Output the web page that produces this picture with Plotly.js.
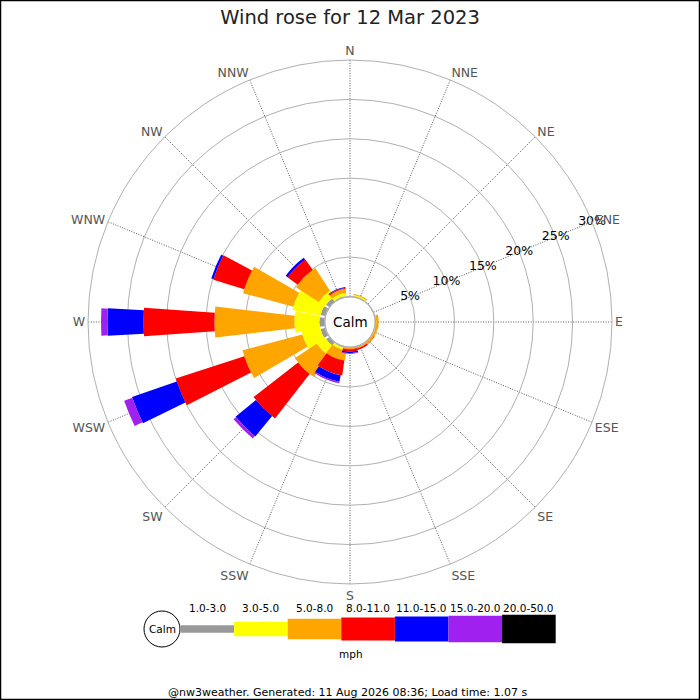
<!DOCTYPE html>
<html>
<head>
<meta charset="utf-8">
<script src="https://cdn.plot.ly/plotly-3.0.1.min.js"></script>
<style>html,body{margin:0;padding:0;background:#fff;}#chart{width:700px;height:700px;}</style>
</head>
<body>
<div id="chart"></div>
<script>
// ---- data (percent of time, by direction and speed band) ----
const directions = ["N","NNE","NE","ENE","E","ESE","SE","SSE","S","SSW","SW","WSW","W","WNW","NW","NNW"];
const speedBands = ["1.0-3.0","3.0-5.0","5.0-8.0","8.0-11.0","11.0-15.0","15.0-20.0","20.0-50.0"];
const bandColors = ["#999999","#ffff00","#ffa500","#ff0000","#0000ff","#a020f0","#000000"];
//                  N    NNE   NE   ENE   E    ESE   SE   SSE   S    SSW   SW    WSW   W     WNW   NW    NNW
const band1to3   = [0,   0,    0,   0,    0,   0,    0,   0,    0,   0.1,  0.5,  0.6,  0.65, 0.6,  0.5,  0.1];
const band3to5   = [0,   0.2,  0,   0,    0.1, 0.05, 0.05,0.05, 0.05,0.3,  1.3,  2.4,  3.15, 3.6,  0.95, 0.4];
const band5to8   = [0,   0.15, 0,   0,    0.3, 0.3,  0.25,0.2,  0.15,1.3,  3.3,  7.85, 10.15,6.6,  3.45, 0.5];
const band8to11  = [0,   0,    0,   0,    0,   0,    0.05,0.2,  0.3, 1.9,  7.15, 9.15, 9.0,  4.1,  1.6,  0.12];
const band11to15 = [0,   0,    0,   0,    0,   0,    0,   0,    0.2, 0.85, 3.35, 6.0,  4.6,  0.3,  0.3,  0.1];
const band15to20 = [0,   0,    0,   0,    0,   0,    0,   0,    0.1, 0.2,  0.4,  1.1,  0.8,  0,    0,    0];
const band20to50 = [0,   0,    0,   0,    0,   0,    0,   0,    0,   0,    0,    0,    0,    0,    0,    0];
const bandValues = [band1to3, band3to5, band5to8, band8to11, band11to15, band15to20, band20to50];
const radialTicks = [5, 10, 15, 20, 25, 30];
const radialLabelDir = "ENE";
const titleText = "Wind rose for 12 Mar 2023";
const footerText = "@nw3weather. Generated: 11 Aug 2026 08:36; Load time: 1.07 s";
const unitText = "mph";
const calmText = "Calm";

// ---- style constants ----
const W = 700, H = 700;
const cx = 350, cy = 322, R = 262, holePx = 25.6;
const rMax = 30;
const sectorDeg = 360 / directions.length;
const barPx = [9, 17, 22, 23.5, 25.5, 27, 28];        // bar thickness per band (px)
const legendPx = [7.7, 14.3, 20.3, 23, 25, 26.7, 28.3]; // legend bar heights
const FONT = "DejaVu Sans, sans-serif";

const px = v => v / W, py = v => 1 - v / H;
const scale = (R - holePx) / rMax;

// traces (widths in category units: 1 = one full sector)
const cum = directions.map(() => 0);
const traces = bandValues.map((vals, b) => {
  const widths = vals.map((v, i) => {
    const mid = holePx + scale * (cum[i] + v / 2);
    const deg = 2 * Math.atan((barPx[b] / 2) / mid) * 180 / Math.PI;
    return Math.min(deg, 30) / sectorDeg;
  });
  vals.forEach((v, i) => cum[i] += v);
  return {
    type: "barpolar",
    name: speedBands[b],
    r: vals,
    theta: directions,
    width: widths,
    marker: {color: bandColors[b], line: {width: 0}},
    hoverinfo: "skip",
    showlegend: false
  };
});
// radial tick labels, centred on the ENE spoke
traces.push({
  type: "scatterpolar", mode: "text",
  r: radialTicks, theta: radialTicks.map(() => radialLabelDir),
  text: radialTicks.map(t => t + "%"),
  textposition: "middle center",
  textfont: {family: FONT, size: 12.5, color: "#000000"},
  cliponaxis: false, hoverinfo: "skip", showlegend: false
});

// shapes: calm circle, legend glyphs, border
const shapes = [];
shapes.push({type: "circle", xref: "paper", yref: "paper",
  x0: px(cx - 25), x1: px(cx + 25), y0: py(cy + 25), y1: py(cy - 25),
  line: {color: "#aaaaaa", width: 1}, fillcolor: "#ffffff", layer: "above"});
const legY = 629, legX0 = 180.5, legStep = 53.6;
shapes.push({type: "circle", xref: "paper", yref: "paper",
  x0: px(144), x1: px(180), y0: py(legY + 18), y1: py(legY - 18),
  line: {color: "#000000", width: 1}, fillcolor: "#ffffff"});
const annotations = [];
speedBands.forEach((lab, b) => {
  const x0 = legX0 + b * legStep, x1 = x0 + legStep;
  shapes.push({type: "rect", xref: "paper", yref: "paper",
    x0: px(x0), x1: px(x1), y0: py(legY + legendPx[b] / 2), y1: py(legY - legendPx[b] / 2),
    line: {width: 0}, fillcolor: bandColors[b]});
  annotations.push({xref: "paper", yref: "paper", x: px((x0 + x1) / 2), y: py(607.5),
    text: lab, showarrow: false, xanchor: "center", yanchor: "middle",
    font: {family: FONT, size: 10.5, color: "#000"}});
});
shapes.push({type: "rect", xref: "paper", yref: "paper",
  x0: px(0.5), x1: px(699.5), y0: py(699.5), y1: py(0.5),
  line: {color: "#000000", width: 1.5}, fillcolor: "rgba(0,0,0,0)"});

annotations.push({xref: "paper", yref: "paper", x: px(cx), y: py(cy),
  text: calmText, showarrow: false, xanchor: "center", yanchor: "middle",
  font: {family: FONT, size: 13.5, color: "#000"}});
annotations.push({xref: "paper", yref: "paper", x: px(162), y: py(legY),
  text: calmText, showarrow: false, xanchor: "center", yanchor: "middle",
  font: {family: FONT, size: 10.5, color: "#000"}});
annotations.push({xref: "paper", yref: "paper", x: px(351), y: py(653.5),
  text: unitText, showarrow: false, xanchor: "center", yanchor: "middle",
  font: {family: FONT, size: 10.5, color: "#000"}});
annotations.push({xref: "paper", yref: "paper", x: px(347), y: py(692),
  text: footerText, showarrow: false, xanchor: "center", yanchor: "middle",
  font: {family: FONT, size: 11, color: "#000"}});

const layout = {
  width: W, height: H,
  margin: {l: 0, r: 0, t: 0, b: 0},
  paper_bgcolor: "#ffffff",
  font: {family: FONT},
  title: {text: titleText, x: 0.5, xanchor: "center", y: py(17), yanchor: "middle",
    font: {family: FONT, size: 19.5, color: "#222222"}},
  showlegend: false,
  polar: {
    domain: {x: [px(cx - R), px(cx + R)], y: [py(cy + R), py(cy - R)]},
    hole: holePx / R,
    bgcolor: "#ffffff",
    barmode: "stack",
    bargap: 0,
    radialaxis: {
      range: [0, rMax], tickvals: radialTicks, showticklabels: false,
      angle: 22.5, showline: false, ticks: "", gridcolor: "#b0b0b0", gridwidth: 1
    },
    angularaxis: {
      type: "category", categoryarray: directions, direction: "clockwise", rotation: 90,
      gridcolor: "#555555", griddash: "1px,1.5px", gridwidth: 1,
      showline: true, linecolor: "#b0b0b0", linewidth: 1, ticks: "",
      tickfont: {family: FONT, size: 12.5, color: "#555555"}
    }
  },
  shapes: shapes,
  annotations: annotations
};

Plotly.newPlot("chart", traces, layout, {staticPlot: true, displayModeBar: false});
</script>
</body>
</html>
